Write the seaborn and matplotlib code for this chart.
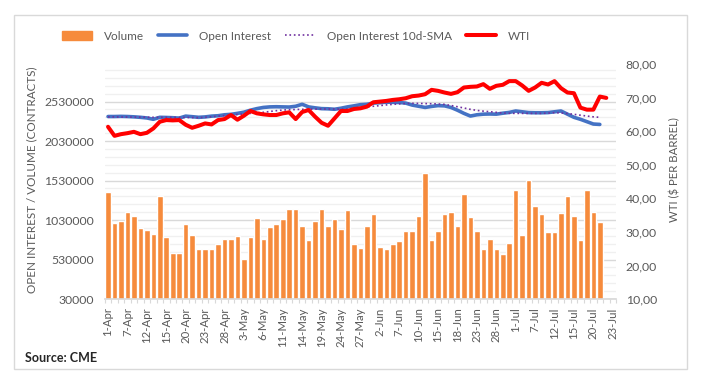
import matplotlib.pyplot as plt
import matplotlib.ticker as mticker
from matplotlib.lines import Line2D
from matplotlib.patches import Patch, Rectangle
import numpy as np
import pandas as pd
import seaborn as sns

# trading days 1-Apr .. 23-Jul (no Good Friday, Memorial Day, 5-Jul)
days = pd.bdate_range('2021-04-01', '2021-07-23').drop(pd.to_datetime(['2021-04-02', '2021-05-31', '2021-07-05']))
day_labels = [f'{d.day}-{d.strftime("%b")}' for d in days]

volume = [1380000, 988000, 1013000, 1127000, 1085000, 925000, 908000, 857000, 1330000, 819000,
          616000, 616000, 975000, 844000, 659000, 659000, 659000, 722000, 785000, 785000,
          832000, 532000, 819000, 1060000, 794000, 937000, 975000, 1047000, 1165000, 1173000,
          958000, 773000, 1013000, 1173000, 958000, 1047000, 920000, 1152000, 730000, 671000,
          958000, 1102000, 692000, 659000, 730000, 760000, 895000, 895000, 1085000, 1621000,
          773000, 895000, 1102000, 1127000, 950000, 1355000, 1064000, 887000, 659000, 785000,
          659000, 595000, 743000, 1406000, 844000, 1532000, 1203000, 1102000, 874000, 874000,
          1114000, 1330000, 1085000, 773000, 1406000, 1127000, 1000000]

open_interest = [2340000, 2340000, 2342000, 2340000, 2336000, 2330000, 2322000, 2305000, 2330000, 2328000,
                 2325000, 2320000, 2345000, 2338000, 2330000, 2335000, 2345000, 2350000, 2362000, 2368000,
                 2380000, 2395000, 2420000, 2440000, 2455000, 2462000, 2464000, 2462000, 2460000, 2470000,
                 2495000, 2462000, 2450000, 2440000, 2438000, 2432000, 2445000, 2462000, 2475000, 2490000,
                 2495000, 2510000, 2515000, 2522000, 2520000, 2518000, 2510000, 2485000, 2470000, 2455000,
                 2468000, 2478000, 2475000, 2455000, 2420000, 2380000, 2346000, 2362000, 2370000, 2372000,
                 2370000, 2382000, 2392000, 2410000, 2400000, 2390000, 2388000, 2388000, 2390000, 2400000,
                 2410000, 2370000, 2330000, 2305000, 2275000, 2245000, 2240000]

oi_sma10 = [2335000, 2335000, 2334000, 2333000, 2333000, 2332000, 2331000, 2330000, 2330000, 2330000,
            2330000, 2329000, 2328000, 2327000, 2326000, 2330000, 2337000, 2345000, 2352000, 2359000,
            2366000, 2373000, 2380000, 2387000, 2393000, 2404000, 2414000, 2422000, 2426000, 2429000,
            2431000, 2433000, 2434000, 2435000, 2435000, 2435000, 2433000, 2436000, 2442000, 2452000,
            2462000, 2470000, 2478000, 2487000, 2494000, 2500000, 2505000, 2507000, 2506000, 2504000,
            2502000, 2499000, 2494000, 2480000, 2464000, 2448000, 2431000, 2418000, 2408000, 2401000,
            2393000, 2384000, 2381000, 2380000, 2380000, 2380000, 2380000, 2380000, 2384000, 2389000,
            2385000, 2378000, 2368000, 2357000, 2346000, 2336000, 2330000]

wti = [61.3, 58.6, 59.1, 59.4, 59.8, 59.1, 59.5, 60.8, 62.8, 63.3,
       63.2, 63.3, 61.9, 61.0, 61.6, 62.3, 62.0, 63.3, 63.6, 64.8,
       63.4, 64.6, 66.0, 65.3, 65.0, 64.8, 64.8, 65.3, 65.6, 63.6,
       65.7, 66.3, 64.3, 62.5, 61.6, 63.8, 66.0, 66.0, 66.6, 66.8,
       67.3, 68.6, 68.8, 69.0, 69.3, 69.5, 69.8, 70.4, 70.6, 71.0,
       72.3, 72.0, 71.5, 71.1, 71.6, 73.0, 73.2, 73.3, 74.0, 72.6,
       73.5, 73.8, 74.9, 74.9, 73.6, 72.0, 73.0, 74.4, 73.9, 74.9,
       72.8, 71.5, 71.3, 67.0, 66.4, 66.4, 70.3, 69.9]

tick_labels = day_labels[::3]

# colours
c_vol = '#F68B3C'
c_oi = '#4472C4'
c_sma = '#7030A0'
c_wti = '#FF0000'
c_txt = '#595959'

sns.set_theme(style='white')
plt.rcParams['font.family'] = ['Lato', 'DejaVu Sans']

fig = plt.figure(figsize=(7.09, 3.83), dpi=100)
ax = fig.add_axes([104.8 / 709, 1 - 299 / 383, 511.2 / 709, 235 / 383])

df_vol = pd.DataFrame({'day': day_labels[:len(volume)], 'volume': volume})
sns.barplot(data=df_vol, x='day', y='volume', order=day_labels, color=c_vol,
            saturation=1, width=0.86, ax=ax, zorder=2)

x_oi = np.arange(len(open_interest))
sns.lineplot(x=x_oi, y=open_interest, ax=ax, color=c_oi, linewidth=2.6,
             solid_capstyle='round', zorder=3)
sns.lineplot(x=np.arange(len(oi_sma10)), y=oi_sma10, ax=ax, color=c_sma,
             linewidth=1.2, linestyle=':', zorder=4)

ax.set_xlim(-0.5, len(day_labels) - 0.5)
ax.set_ylim(30000, 3005000)
ax.set_yticks(np.arange(30000, 2600000, 500000))
ax.yaxis.set_major_formatter(mticker.FuncFormatter(lambda v, p: f'{int(round(v))}'))
ax.yaxis.set_minor_locator(mticker.FixedLocator(np.arange(30000, 3005000, 100000)))
ax.grid(axis='y', which='major', color='#D9D9D9', linewidth=1)
ax.grid(axis='y', which='minor', color='#F0F0F0', linewidth=1)
ax.set_axisbelow(True)

ax.set_xticks(np.arange(0, len(day_labels), 3))
ax.set_xticklabels(tick_labels, rotation=90)
ax.xaxis.set_minor_locator(mticker.FixedLocator(np.arange(-0.5, len(day_labels), 1)))
ax.tick_params(axis='x', which='major', length=0, pad=6, labelsize=8.2, labelcolor=c_txt)
ax.tick_params(axis='x', which='minor', length=3, color='#D9D9D9', width=0.8, bottom=True)
ax.tick_params(axis='y', which='both', length=0, pad=8, labelsize=8.8, labelcolor=c_txt)
ax.set_xlabel('')
ax.set_ylabel('')
for s in ['top', 'left', 'right']:
    ax.spines[s].set_visible(False)
ax.spines['bottom'].set_color('#D9D9D9')

ax2 = ax.twinx()
sns.lineplot(x=np.arange(len(wti)), y=wti, ax=ax2, color=c_wti, linewidth=2.9,
             solid_capstyle='round', zorder=5)
ax2.set_ylim(10, 80)
ax2.set_yticks(np.arange(10, 81, 10))
ax2.yaxis.set_major_formatter(mticker.FuncFormatter(lambda v, p: f'{v:.2f}'.replace('.', ',')))
ax2.tick_params(axis='y', length=0, pad=7, labelsize=8.8, labelcolor=c_txt)
ax2.grid(False)
ax2.set_ylabel('')
for s in ['top', 'left', 'right', 'bottom']:
    ax2.spines[s].set_visible(False)

fig.text(32 / 709, 1 - 180 / 383, 'OPEN INTEREST / VOLUME (CONTRACTS)', rotation=90,
         ha='center', va='center', fontsize=8.4, color=c_txt)
fig.text(675 / 709, 1 - 170 / 383, 'WTI ($ PER BARREL)', rotation=90,
         ha='center', va='center', fontsize=8.2, color=c_txt)

handles = [Patch(color=c_vol),
           Line2D([], [], color=c_oi, linewidth=2.6, solid_capstyle='round'),
           Line2D([], [], color=c_sma, linewidth=1.2, linestyle=':'),
           Line2D([], [], color=c_wti, linewidth=2.9, solid_capstyle='round')]
fig.legend(handles, ['Volume', 'Open Interest', 'Open Interest 10d-SMA', 'WTI'],
           loc='center', bbox_to_anchor=(296 / 709, 1 - 36 / 383), ncol=4, frameon=False,
           fontsize=8.5, labelcolor=c_txt, handlelength=2.5, handleheight=0.8,
           handletextpad=1.0, columnspacing=1.2)

fig.text(25 / 709, 1 - 358 / 383, 'Source: CME', ha='left', va='center',
         fontsize=9, fontweight='bold', color='#262626')

fig.patches.append(Rectangle((14 / 709, 1 - 369 / 383), 673 / 709, 354 / 383,
                             transform=fig.transFigure, fill=False,
                             edgecolor='#D9D9D9', linewidth=1))

fig.savefig('out.png', dpi=100, facecolor='white')
